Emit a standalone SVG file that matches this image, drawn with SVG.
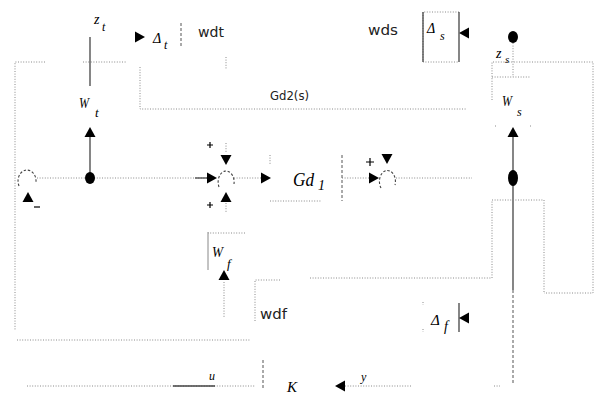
<svg xmlns="http://www.w3.org/2000/svg" xmlns:xlink="http://www.w3.org/1999/xlink" width="605" height="409" viewBox="0 0 605 409">
  <style>
    .dl { fill: none; stroke: #8a8a8a; stroke-width: 1; stroke-dasharray: 1 1.6; }
    .sl { fill: none; stroke: #444; stroke-width: 1.3; }
    .dk { fill: none; stroke: #555; stroke-width: 1; stroke-dasharray: 3 2; }
    .sum { fill: none; stroke: #444; stroke-width: 1.1; stroke-dasharray: 2.5 1.8; }
    .blob { fill: #000; }
    .it { font-family: "Liberation Serif", serif; font-style: italic; fill: #000; }
    .nar { font-family: "DejaVu Sans Condensed", "Liberation Sans Narrow", "DejaVu Sans", sans-serif; fill: #222; }
    .pm { stroke: #000; stroke-width: 1.2; }
  </style>
  <defs>
    <!-- arrowhead pointing right, tip at origin -->
    <path id="ah" d="M0,0 L-10,-5.5 L-10,5.5 Z" fill="#000"/>
  </defs>
  <rect width="605" height="409" fill="#fff"/>

  <g id="connectors">
    <!-- outer left loop and top frame -->
    <polyline class="dl" points="45,62 15,62 15,330"/>
    <line class="dl" x1="83" y1="62" x2="127" y2="62"/>
    <line class="dl" x1="17" y1="340" x2="250" y2="340"/>
    <!-- Gd2 frame -->
    <polyline class="dl" points="140,67 140,109 467,109"/>
    <line class="dl" x1="226" y1="57" x2="226" y2="70"/>
    <!-- z_t output line -->
    <line class="sl" x1="90" y1="37" x2="90" y2="86"/>
    <!-- W_t input from branch point -->
    <line class="sl" x1="90" y1="178" x2="90" y2="136"/>
    <!-- main forward path -->
    <line class="dl" x1="37" y1="178" x2="208" y2="178"/>
    <line class="sl" x1="195" y1="178" x2="208" y2="178"/>
    <line class="dl" x1="234" y1="178" x2="262" y2="178"/>
    <line class="dl" x1="342" y1="178" x2="370" y2="178"/>
    <line class="dl" x1="396" y1="178" x2="472" y2="178"/>
    <!-- summing inputs -->
    <line class="dl" x1="226" y1="143" x2="226" y2="153"/>
    <line class="dl" x1="226" y1="203" x2="226" y2="212"/>
    <!-- Gd1 block -->
    <line class="dl" x1="270" y1="155" x2="270" y2="165"/>
    <line class="dl" x1="270" y1="201" x2="322" y2="201"/>
    <line class="dk" x1="342" y1="155" x2="342" y2="201"/>
    <!-- sensor path on the right -->
    <line class="sl" x1="513" y1="136" x2="513" y2="290"/>
    <line class="dk" x1="513" y1="290" x2="513" y2="385"/>
    <line class="dl" x1="513" y1="43" x2="513" y2="77"/>
    <polyline class="dl" points="492,100 492,62 593,62 593,293 544,293"/>
    <line class="dl" x1="492" y1="77" x2="530" y2="77"/>
    <polyline class="dl" points="492,278 492,200 544,200 544,293"/>
    <line class="dl" x1="310" y1="278" x2="492" y2="278"/>
    <!-- Delta_t -->
    <line class="dk" x1="181" y1="23" x2="181" y2="47"/>
    <!-- W_f -->
    <line class="dl" x1="224" y1="282" x2="224" y2="318"/>
    <polyline class="dl" points="280,280 255,280 255,322"/>
    <!-- Delta_f -->
    <line class="sl" x1="459" y1="303" x2="459" y2="332"/>
    <line class="dl" x1="423" y1="302" x2="423" y2="305"/>
    <line class="dl" x1="423" y1="329" x2="423" y2="332"/>
    <!-- controller loop -->
    <line class="dl" x1="345" y1="386" x2="412" y2="386"/>
    <line class="dl" x1="494" y1="386" x2="500" y2="386"/>
    <line class="dk" x1="263" y1="360" x2="263" y2="389"/>
    <line class="dl" x1="27" y1="386" x2="255" y2="386"/>
    <line class="sl" x1="173" y1="386" x2="215" y2="386"/>
  </g>

  <g id="arrowheads">
    <use xlink:href="#ah" transform="translate(145,37)"/>
    <use xlink:href="#ah" transform="translate(90,127) rotate(-90)"/>
    <use xlink:href="#ah" transform="translate(28,192) rotate(-90)"/>
    <use xlink:href="#ah" transform="translate(217,178)"/>
    <use xlink:href="#ah" transform="translate(226,165) rotate(90)"/>
    <use xlink:href="#ah" transform="translate(226,192) rotate(-90)"/>
    <use xlink:href="#ah" transform="translate(271,178)"/>
    <use xlink:href="#ah" transform="translate(379,178)"/>
    <use xlink:href="#ah" transform="translate(387,164) rotate(90)"/>
    <use xlink:href="#ah" transform="translate(513,127) rotate(-90)"/>
    <use xlink:href="#ah" transform="translate(459,33) rotate(180)"/>
    <use xlink:href="#ah" transform="translate(224,270) rotate(-90)"/>
    <use xlink:href="#ah" transform="translate(459,318) rotate(180)"/>
    <use xlink:href="#ah" transform="translate(335,386) rotate(180)"/>
  </g>

  <g id="zt">
    <text class="it" x="94" y="24" font-size="14">z</text>
    <text class="it" x="102" y="31" font-size="12">t</text>
  </g>
  <g id="Wt">
    <text class="it" x="79" y="108" font-size="14" textLength="10" lengthAdjust="spacingAndGlyphs">W</text>
    <text class="it" x="95" y="117" font-size="13">t</text>
  </g>
  <g id="DeltaT">
    <text class="it" x="153" y="43" font-size="14">Δ</text>
    <text class="it" x="164" y="49" font-size="12">t</text>
    <text class="nar" x="198" y="37" font-size="14" textLength="26" lengthAdjust="spacingAndGlyphs">wdt</text>
  </g>
  <g id="Gd2">
    <text class="nar" x="270" y="100" font-size="13" textLength="39" lengthAdjust="spacingAndGlyphs">Gd2(s)</text>
  </g>
  <g id="DeltaS">
    <text class="nar" x="368" y="35" font-size="14" textLength="30" lengthAdjust="spacingAndGlyphs">wds</text>
    <polyline class="dl" points="459,12 423,12 423,62 459,62"/>
    <line class="sl" x1="459" y1="12" x2="459" y2="62" stroke-width="1"/>
    <line class="sl" x1="423" y1="12" x2="423" y2="62" stroke-width="0.8" stroke="#999"/>
    <text class="it" x="427" y="33" font-size="14">Δ</text>
    <text class="it" x="440" y="40" font-size="12">s</text>
  </g>
  <g id="zs">
    <ellipse class="blob" cx="513" cy="37" rx="5" ry="6"/>
    <text class="it" x="496" y="58" font-size="14">z</text>
    <text class="it" x="505" y="63" font-size="11">s</text>
  </g>
  <g id="Ws">
    <text class="it" x="502" y="106" font-size="14" textLength="10" lengthAdjust="spacingAndGlyphs">W</text>
    <text class="it" x="517" y="116" font-size="12">s</text>
    <line class="dl" x1="495" y1="126" x2="496" y2="126"/>
    <line class="dl" x1="530" y1="126" x2="531" y2="126"/>
  </g>
  <g id="sum1">
    <path class="sum" d="M19,186 A9,11 0 1,1 36,182"/>
    <line class="pm" x1="34" y1="207" x2="40" y2="207"/>
  </g>
  <g id="branch1">
    <ellipse class="blob" cx="90" cy="178" rx="5" ry="6"/>
  </g>
  <g id="sum2">
    <path class="sum" d="M219,187 A8,11 0 1,1 234,184"/>
    <path class="pm" d="M207,145 h6 M210,142 v6 M207,205 h6 M210,202 v6"/>
  </g>
  <g id="Gd1">
    <text class="it" x="293" y="186" font-size="18" textLength="21" lengthAdjust="spacingAndGlyphs">Gd</text>
    <text class="it" x="318" y="190" font-size="14">1</text>
  </g>
  <g id="sum3">
    <path class="sum" d="M381,188 A8,11 0 1,1 395,185"/>
    <path class="pm" d="M366,162 h8 M370,158 v8"/>
  </g>
  <g id="branch2">
    <ellipse class="blob" cx="513" cy="178" rx="5" ry="8"/>
  </g>
  <g id="Wf">
    <polyline class="dl" points="245,233 208,233"/>
    <line x1="208" y1="232" x2="208" y2="270" stroke="#888" stroke-width="1"/>
    <text class="it" x="212" y="257" font-size="15" textLength="11" lengthAdjust="spacingAndGlyphs">W</text>
    <text class="it" x="227" y="268" font-size="13">f</text>
    <text class="nar" x="260" y="319" font-size="14" textLength="27" lengthAdjust="spacingAndGlyphs">wdf</text>
  </g>
  <g id="DeltaF">
    <text class="it" x="431" y="325" font-size="15">Δ</text>
    <text class="it" x="444" y="331" font-size="14">f</text>
  </g>
  <g id="K">
    <text class="it" x="287" y="392" font-size="15">K</text>
    <text class="it" x="209" y="380" font-size="12">u</text>
    <text class="it" x="361" y="381" font-size="12">y</text>
  </g>
</svg>
